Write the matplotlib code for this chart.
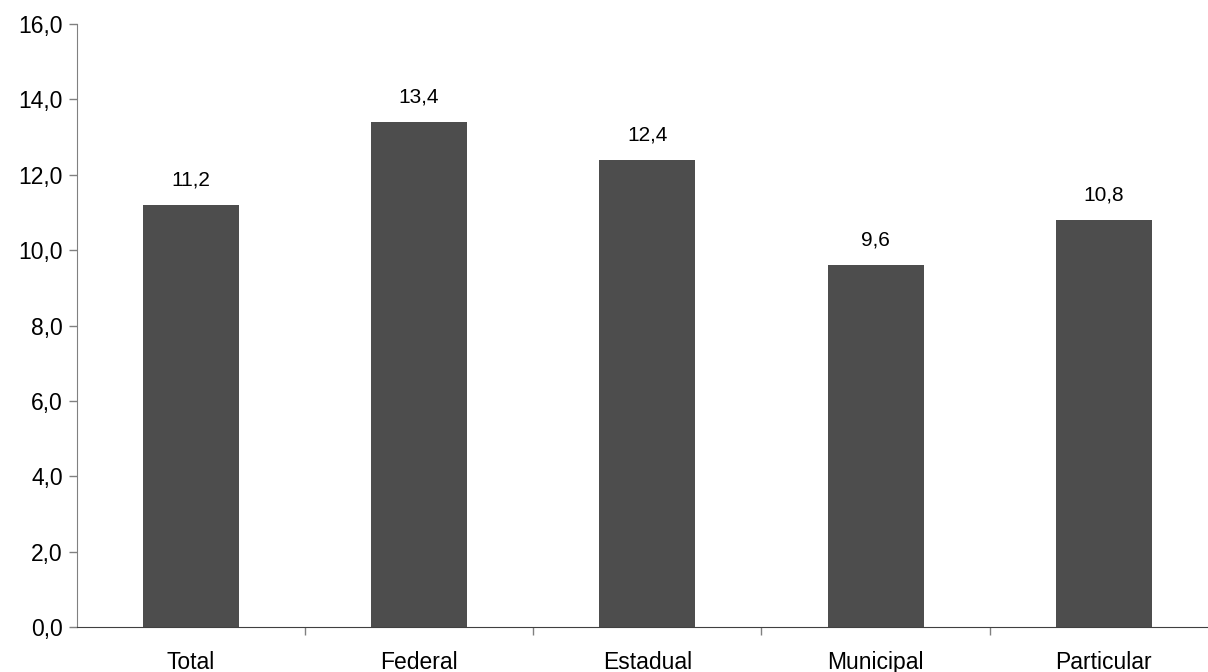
import matplotlib
matplotlib.use("Agg")
import matplotlib.pyplot as plt

categories = ["Total", "Federal", "Estadual", "Municipal", "Particular"]
values = [11.2, 13.4, 12.4, 9.6, 10.8]
yticks = [0, 2, 4, 6, 8, 10, 12, 14, 16]

plt.rcParams["font.family"] = ["Liberation Sans", "DejaVu Sans"]

W, H = 1208, 672
fig = plt.figure(figsize=(W / 100, H / 100), dpi=100)
# axes box in pixels: left 76.7, right 1218, bottom y=627, top y=24
left, right, top, bottom = 76.7, 1218.0, 24.0, 627.0
ax = fig.add_axes([left / W, 1 - bottom / H, (right - left) / W, (bottom - top) / H])

x = list(range(len(categories)))
ax.bar(x, values, width=0.42, color="#4d4d4d", zorder=2)

for xi, v in zip(x, values):
    ax.annotate(f"{v:.1f}".replace(".", ","), (xi, v), xytext=(0, 11),
                textcoords="offset points", ha="center", va="bottom", fontsize=15)

ax.set_xlim(-0.5, len(categories) - 0.5)
ax.set_ylim(0, 16)
ax.set_yticks(yticks)
ax.set_yticklabels([f"{t:.1f}".replace(".", ",") for t in yticks], fontsize=16.5)

# category ticks sit between bars, labels centred under bars
ax.set_xticks([i + 0.5 for i in x[:-1]])
ax.set_xticklabels([])
ax.set_xticks(x, minor=True)
ax.set_xticklabels(categories, minor=True, fontsize=16.5)
ax.tick_params(axis="x", which="minor", length=0, pad=17)
ax.tick_params(axis="x", which="major", length=6, width=1, color="#808080", direction="out")
ax.tick_params(axis="y", length=6, width=1, color="#808080", direction="out", pad=4)

for s in ["top", "right"]:
    ax.spines[s].set_visible(False)
ax.spines["left"].set_color("#808080")
ax.spines["bottom"].set_color("#404040")

fig.savefig("out.png", dpi=100)
